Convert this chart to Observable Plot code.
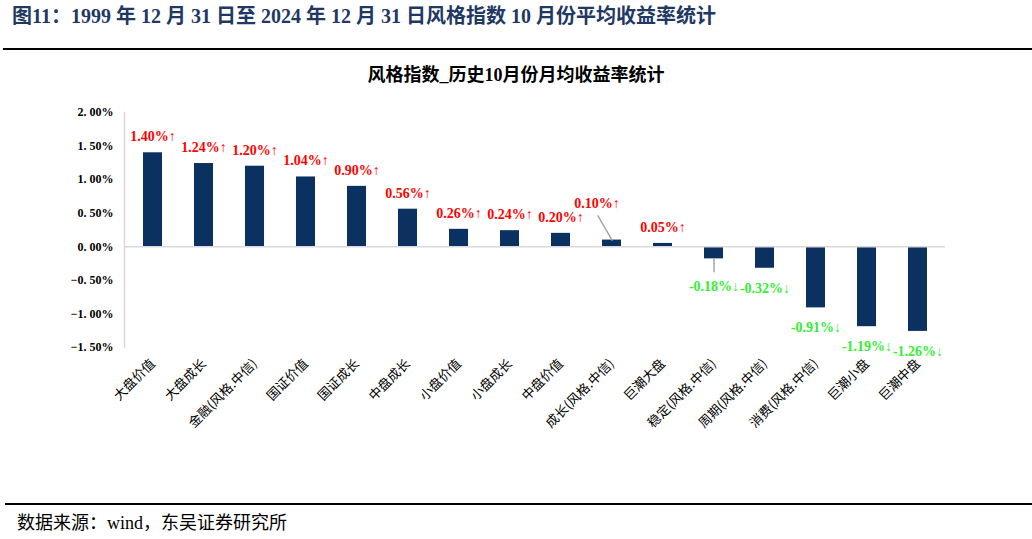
<!DOCTYPE html>
<html><head><meta charset="utf-8">
<script src="https://cdn.jsdelivr.net/npm/d3@7"></script>
<script src="https://cdn.jsdelivr.net/npm/@observablehq/plot@0.6"></script>
<style>
body{margin:0;background:#fff;width:1032px;height:539px;position:relative;overflow:hidden;font-family:"Liberation Serif","Noto Sans CJK SC",serif;}
#title{position:absolute;left:12px;top:3px;font-size:20px;font-weight:bold;color:#1f3864;white-space:nowrap;line-height:26px;}
.rule{position:absolute;left:3px;right:0;height:2px;background:#000;}
#sub{position:absolute;left:0;width:1032px;top:63px;text-align:center;font-size:18px;font-weight:bold;line-height:24px;color:#000;}
#chart{position:absolute;left:0;top:90px;}
#src{position:absolute;left:17px;top:511px;font-size:18px;line-height:24px;color:#000;}
</style></head>
<body>
<div id="title">图11：1999 年 12 月 31 日至 2024 年 12 月 31 日风格指数 10 月份平均收益率统计</div>
<div class="rule" style="top:48px"></div>
<div id="sub">风格指数_历史10月份月均收益率统计</div>
<div id="chart"></div>
<div class="rule" style="top:503px;left:5px"></div>
<div id="src">数据来源：wind，东吴证券研究所</div>
<script>
const categories = ["大盘价值","大盘成长","金融(风格.中信)","国证价值","国证成长","中盘成长","小盘价值","小盘成长","中盘价值","成长(风格.中信)","巨潮大盘","稳定(风格.中信)","周期(风格.中信)","消费(风格.中信)","巨潮小盘","巨潮中盘"];
const values = [1.40,1.24,1.20,1.04,0.90,0.56,0.26,0.24,0.20,0.10,0.05,-0.18,-0.32,-0.91,-1.19,-1.26];
const yTicks = [-1.5,-1.0,-0.5,0,0.5,1.0,1.5,2.0];

const data = categories.map((c, i) => ({category: c, value: values[i]}));
const label = d => d.value >= 0 ? `${d.value.toFixed(2)}%↑` : `${d.value.toFixed(2)}%↓`;
const tickFmt = v => (v < 0 ? "−" : "") + Math.abs(v).toFixed(2).replace(".", ". ") + "%";

const leaderUp = new Set(["成长(风格.中信)"]);
const leaderDown = new Set(["稳定(风格.中信)"]);
const posNormal = data.filter(d => d.value >= 0 && !leaderUp.has(d.category));
const negNormal = data.filter(d => d.value < 0 && !leaderDown.has(d.category));
const posLeader = data.filter(d => leaderUp.has(d.category));
const negLeader = data.filter(d => leaderDown.has(d.category));

const lineShape = {draw(context, l) { context.moveTo(0, 0); context.lineTo(0, -l); }};
const red = "#ff0000", green = "#33ee33";
const lblStyle = {x: "category", y: "value", text: label, fontWeight: "bold", fontSize: 14};

const chart = Plot.plot({
  width: 1032,
  height: 400,
  marginTop: 22,
  marginBottom: 143,
  marginLeft: 124,
  marginRight: 87,
  style: {fontFamily: '"Liberation Serif","Noto Sans CJK SC",serif', background: "#fff", color: "#000"},
  x: {domain: categories, paddingInner: 0.63, paddingOuter: 0.315, label: null},
  y: {domain: [-1.5, 2.0], label: null},
  marks: [
    Plot.frame({anchor: "left", stroke: "#d9d9d9", strokeWidth: 1.5}),
    Plot.barY(data, {x: "category", y: "value", fill: "#0b3161"}),
    Plot.ruleY([0], {stroke: "#d9d9d9", strokeWidth: 1.5}),
    Plot.axisY({ticks: yTicks, tickFormat: tickFmt, tickSize: 0, tickPadding: 11, fontSize: 12, fontWeight: "bold", label: null}),
    Plot.axisX({tickRotate: -45, tickSize: 0, tickPadding: 14, fontSize: 13, label: null, fontFamily: '"Noto Sans CJK SC",sans-serif'}),
    Plot.vector(posLeader, {x: "category", y: "value", length: 28, rotate: -30, anchor: "start", shape: lineShape, stroke: "#a6a6a6", strokeWidth: 1.5}),
    Plot.vector(negLeader, {x: "category", y: "value", length: 13, rotate: 180, anchor: "start", shape: lineShape, stroke: "#a6a6a6", strokeWidth: 1.5}),
    Plot.text(posNormal, {...lblStyle, dy: -16, fill: red}),
    Plot.text(negNormal, {...lblStyle, dy: 20, fill: green}),
    Plot.text(posLeader, {...lblStyle, dx: -15, dy: -37, fill: red}),
    Plot.text(negLeader, {...lblStyle, dy: 28, fill: green})
  ]
});
document.getElementById("chart").appendChild(chart);
</script>
</body></html>
